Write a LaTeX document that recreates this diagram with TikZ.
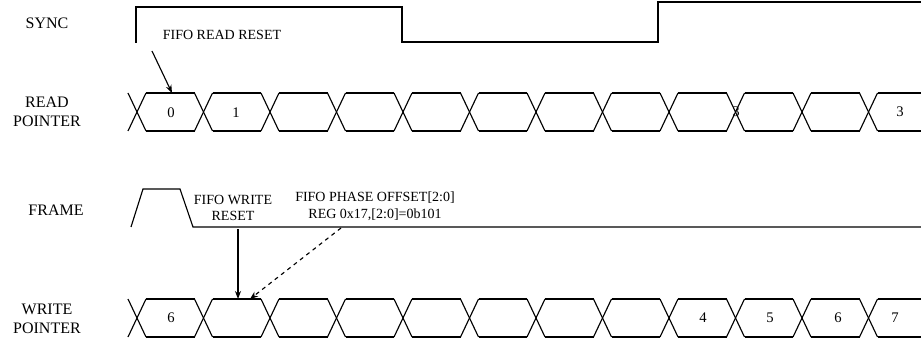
\documentclass[tikz,border=0pt]{standalone}
\usepackage{fontspec}
\setmainfont{Liberation Serif}
\usetikzlibrary{arrows.meta}
\begin{document}
\begin{tikzpicture}[x=0.75pt,y=-0.75pt,line width=0.85pt,
  signame/.style={font=\fontsize{12}{14}\selectfont,align=center},
  note/.style={font=\fontsize{10.5}{12.5}\selectfont,align=center},
  val/.style={font=\fontsize{11}{13}\selectfont},
  pointer/.style={-{Stealth[length=6pt,width=4.5pt]}}]
\useasboundingbox (0,0) rectangle (921,342);
% signal names
\node [signame] (sync) at (47,23) {SYNC};
\node [signame] (readptr) at (47,112) {READ\\POINTER};
\node [signame] (frame) at (56,210) {FRAME};
\node [signame] (writeptr) at (47,319) {WRITE\\POINTER};
% sync and frame
\draw (136,43) -- (136,7) -- (402,7) -- (402,42) -- (658,42) -- (658,2) -- (921,2);
\draw (131,227) -- (143,189) -- (180,189) -- (193,227) -- (921,227);
% the two pointer buses
\foreach \top/\bot in {93/131, 299/337}{
  \foreach \k in {0,...,11}{
    \pgfmathsetmacro\c{137+66.5*\k}
    \draw (\c-9,\top) -- (\c+9,\bot);
    \draw (\c-9,\bot) -- (\c+9,\top);
    \ifnum\k<11
      \draw (\c+9,\top) -- (\c+57.5,\top);
      \draw (\c+9,\bot) -- (\c+57.5,\bot);
    \else
      \draw (\c+9,\top) -- (921,\top);
      \draw (\c+9,\bot) -- (921,\bot);
    \fi
  }
}
% pointer values
\node [val] (r0) at (171,113) {0};
\node [val] (r1) at (236,113) {1};
\node [val] (r3a) at (736,112) {3};
\node [val] (r3b) at (900,112) {3};
\node [val] (w6a) at (171,318) {6};
\node [val] (w4) at (703,318) {4};
\node [val] (w5) at (770,318) {5};
\node [val] (w6b) at (838,318) {6};
\node [val] (w7) at (895,318) {7};
% notes and arrows
\node [note] (rdreset) at (222,35) {FIFO READ RESET};
\node [note] (wrreset) at (233,208) {FIFO WRITE\\RESET};
\node [note] (phase) at (375,206) {FIFO PHASE OFFSET[2:0]\\REG 0x17,[2:0]=0b101};
\coordinate (rdtail) at (152,51);
\coordinate (rdhead) at (172,93);
\coordinate (wrtail) at (238,229);
\coordinate (wrhead) at (238,299);
\coordinate (phtail) at (341,228);
\coordinate (phhead) at (250,299);
\draw [pointer] (rdtail) -- (rdhead);
\draw [pointer] (wrtail) -- (wrhead);
\draw [pointer,dashed] (phtail) -- (phhead);
\end{tikzpicture}
\end{document}
